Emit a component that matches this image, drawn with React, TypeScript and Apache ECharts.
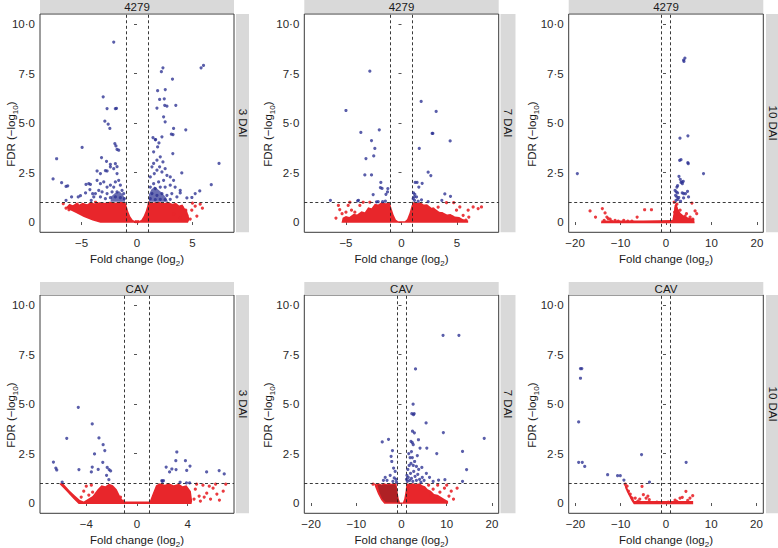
import { useEffect, useRef } from 'react';
import * as echarts from 'echarts';

// ---------- labels & ticks ----------
const topLabels = ['4279', '4279', '4279', 'CAV', 'CAV', 'CAV'];
const sideLabels = ['3 DAI', '7 DAI', '10 DAI', '3 DAI', '7 DAI', '10 DAI'];
const xTicks1 = [-5, 0, 5];
const xTicks2 = [-5, 0, 5];
const xTicks3 = [-20, -10, 0, 10, 20];
const xTicks4 = [-4, 0, 4];
const xTicks5 = [-20, -10, 0, 10, 20];
const xTicks6 = [-20, -10, 0, 10, 20];
const yTicks = [0, 2.5, 5, 7.5, 10];
const fcCut = [-1, 1];
const fdrCut = 1;

// ---------- panel 1: 4279, 3 DAI ----------
const blue1 = [
  [-2.1, 9.1], [-3.05, 6.33], [-2.7, 5.74], [-1.95, 5.73], [-1.85, 5.75], [-2.9, 5.1], [-2.6, 4.95], [-2.45, 4.73],
  [-4.95, 3.77], [-7.25, 3.2], [-7.57, 2.18], [-6.8, 1.99], [-6.4, 1.8], [-6.25, 1.83], [-4.35, 1.94], [-4.2, 1.9],
  [-5.1, 1.33], [-2.0, 3.97], [-1.9, 3.85], [-1.8, 3.67], [-1.65, 3.63], [-3.2, 3.26], [-2.75, 3.07], [-2.4, 2.92],
  [-1.95, 2.95], [-1.8, 2.8], [-2.7, 2.58], [-2.85, 2.6], [-3.6, 2.58], [-3.3, 2.45], [-4.6, 1.9], [-5.3, 1.27],
  [-4.0, 1.43], [-5.9, 1.27], [-6.4, 1.1],
  [-2.4, 2.79], [-2.1, 2.7], [-1.8, 2.45], [-3.6, 2.11], [-3.3, 1.94], [-3.0, 2.03], [-2.7, 1.77], [-2.4, 1.86],
  [-2.1, 1.77], [-1.95, 2.03], [-1.65, 2.11], [-1.5, 1.86], [-1.35, 1.6], [-1.2, 1.44], [-1.8, 1.52], [-2.25, 1.52],
  [-2.7, 1.44], [-3.15, 1.52], [-3.45, 1.6], [-3.75, 1.44], [-3.9, 1.27], [-3.3, 1.27], [-2.85, 1.18], [-2.4, 1.23],
  [-1.95, 1.27], [-1.5, 1.23], [-1.14, 1.18], [-4.25, 1.64], [-4.64, 1.47], [-4.13, 1.1],
  [2.34, 7.8], [2.2, 7.6], [3.2, 7.23], [5.78, 7.8], [6.0, 7.92], [1.86, 6.64], [2.55, 6.7], [2.04, 6.2], [2.46, 6.23],
  [2.7, 5.86], [2.5, 5.9], [1.8, 5.76], [3.5, 5.9], [2.4, 5.32], [2.54, 5.07], [3.3, 4.73], [4.4, 4.66], [3.1, 4.44],
  [3.25, 4.42], [1.44, 4.27], [1.65, 4.17], [3.23, 3.46], [7.4, 2.96], [6.7, 1.89], [5.66, 1.57], [5.25, 1.44],
  [4.95, 1.24], [4.5, 1.22], [3.9, 1.47], [4.04, 2.48],
  [1.35, 2.79], [1.5, 2.96], [1.8, 3.13], [2.1, 3.3], [2.34, 3.04], [2.04, 2.79], [1.8, 2.62], [1.56, 2.45],
  [1.2, 2.28], [2.25, 2.53], [2.54, 2.7], [2.7, 2.36], [3.0, 2.28], [3.3, 2.11], [2.4, 2.11], [1.95, 2.03],
  [1.5, 1.94], [1.2, 1.77], [1.65, 1.69], [2.1, 1.77], [2.54, 1.77], [3.0, 1.86], [3.44, 1.77], [3.9, 1.6],
  [1.35, 1.44], [1.8, 1.35], [2.25, 1.44], [2.7, 1.35], [3.14, 1.44], [3.6, 1.27], [1.2, 1.18], [1.65, 1.13],
  [2.1, 1.15], [2.54, 1.13], [3.0, 1.15], [1.5, 3.55], [1.86, 3.8], [1.98, 4.0], [1.68, 4.17], [2.25, 4.31],
];
const red1 = [
  [-6.65, 0.93], [-6.14, 0.62], [-5.84, 0.76], [-5.4, 0.9], [-4.5, 0.76], [-3.74, 1.0], [-6.4, 0.7], [-5.1, 0.55],
  [4.04, 0.76], [4.5, 0.34], [4.94, 0.6], [5.7, 0.9], [5.25, 0.8], [3.3, 0.42], [4.4, 0.6], [5.9, 0.7], [3.9, 0.2],
  [4.8, 0.15], [5.4, 0.3], [5.0, 0.95], [-0.1, 0.02], [0.1, 0.02],
];
const core1 = [
  [-6.3, 0.8], [-6.1, 0.92], [-5.8, 0.85], [-5.5, 0.95], [-5.2, 0.88], [-4.9, 0.97], [-4.5, 0.9], [-4.2, 1.0],
  [-3.8, 0.94], [-3.4, 1.0], [-3.0, 0.96], [-2.5, 1.02], [-2.0, 0.97], [-1.5, 1.02], [-1.05, 1.0],
  [-0.92, 0.78], [-0.78, 0.52], [-0.6, 0.28], [-0.4, 0.12], [-0.2, 0.05], [0, 0.04], [0.2, 0.05],
  [0.4, 0.12], [0.6, 0.3], [0.78, 0.55], [0.92, 0.8], [1.0, 1.05], [1.4, 0.98], [1.9, 1.02], [2.4, 0.96],
  [2.8, 1.0], [3.2, 0.92], [3.5, 0.97], [3.8, 0.84], [4.1, 0.88], [4.3, 0.7], [4.5, 0.6], [4.6, 0.4], [4.75, 0.15],
  [4.6, -0.04], [-3.3, -0.04], [-4.0, 0.08], [-4.8, 0.25], [-5.5, 0.45], [-6.1, 0.62], [-6.4, 0.72],
];
const blueCore1a = [[-2.4, 1.02], [-2.3, 1.3], [-2.0, 1.45], [-1.6, 1.55], [-1.3, 1.4], [-1.1, 1.2], [-1.08, 1.02]];
const blueCore1b = [[1.08, 1.02], [1.08, 1.4], [1.3, 1.65], [1.6, 1.8], [1.9, 1.65], [2.2, 1.5], [2.6, 1.25], [2.8, 1.02]];

// ---------- panel 2: 4279, 7 DAI ----------
const blue2 = [
  [-2.85, 7.63], [-5.0, 5.64], [-3.66, 4.53], [-2.0, 4.66], [-2.7, 4.12], [-2.4, 3.72], [-2.5, 3.34], [-3.2, 3.21],
  [-3.3, 2.38], [-2.7, 2.38], [-1.86, 2.0], [-1.9, 1.74], [-1.75, 1.7], [-2.55, 1.39], [-1.4, 1.4], [-1.23, 1.69],
  [-1.26, 1.52], [-3.87, 1.1], [-3.95, 1.07], [-6.4, 1.1], [-2.25, 1.02], [-2.1, 1.03], [-1.7, 1.03], [-1.45, 1.06],
  [1.77, 6.1], [3.12, 5.59], [2.76, 4.48], [2.82, 4.48], [4.38, 4.1], [1.6, 3.72], [2.4, 2.52], [2.64, 2.35],
  [1.23, 2.0], [1.4, 2.0], [1.86, 1.96], [1.56, 1.77], [1.08, 1.47], [1.2, 1.4], [1.14, 1.27], [1.35, 1.27],
  [3.9, 1.42], [4.41, 1.3], [3.63, 1.1], [1.05, 1.18], [1.17, 1.1], [2.4, 1.03], [1.5, 1.05], [1.8, 1.12],
];
const red2 = [
  [-5.68, 0.84], [-5.56, 0.63], [-5.35, 0.42], [-4.8, 0.84], [-4.65, 1.0], [-4.2, 0.5], [-3.75, 0.84], [-3.45, 1.0],
  [-2.85, 1.0], [4.05, 0.98], [4.7, 0.98], [4.95, 0.6], [5.25, 0.76], [5.55, 0.34], [6.0, 0.6], [6.06, 0.25],
  [6.45, 0.76], [6.9, 0.68], [7.2, 0.76], [4.6, 0.25], [3.6, 0.42], [2.85, 0.67], [4.95, 0.17], [5.8, 0.1],
  [3.3, 0.75], [-5.9, 0.2], [-4.5, 0.6], [-5.0, 0.5],
];
const core2 = [
  [-5.3, 0.22], [-5.0, 0.3], [-4.7, 0.26], [-4.3, 0.42], [-4.0, 0.38], [-3.6, 0.55], [-3.3, 0.5], [-3.0, 0.75],
  [-2.7, 0.7], [-2.4, 0.92], [-2.1, 0.88], [-1.8, 1.0], [-1.4, 0.95], [-1.05, 1.0],
  [-0.9, 0.7], [-0.72, 0.38], [-0.5, 0.12], [-0.3, 0.04], [0.3, 0.04], [0.5, 0.14], [0.72, 0.45], [0.92, 0.85],
  [1.05, 1.0], [1.4, 0.96], [1.7, 1.0], [2.0, 0.88], [2.3, 0.9], [2.7, 0.72], [3.0, 0.68], [3.4, 0.52], [3.7, 0.5],
  [4.1, 0.38], [4.4, 0.4], [4.8, 0.28], [5.2, 0.25], [5.5, 0.15], [6.0, 0.08], [6.0, -0.04], [-5.4, -0.04],
];

// ---------- panel 3: 4279, 10 DAI ----------
const blue3 = [
  [3.87, 8.19], [4.16, 8.29], [3.95, 8.12], [3.07, 4.24], [4.82, 4.36], [-19.5, 2.45], [8.25, 2.45], [3.0, 3.12],
  [3.3, 3.15], [4.8, 3.0], [4.9, 2.95], [2.85, 2.31], [3.14, 2.16], [3.5, 2.03], [3.8, 2.06], [3.6, 1.94],
  [2.55, 1.84], [2.26, 1.52], [2.55, 1.47], [2.1, 1.35], [2.4, 1.27], [2.8, 1.24], [3.58, 1.47], [3.9, 1.44],
  [4.74, 1.55], [4.96, 1.27], [3.87, 1.22], [4.3, 1.44], [2.0, 1.6], [2.4, 1.77], [3.3, 2.0], [2.2, 1.1],
  [2.6, 1.15], [3.2, 1.05],
];
const red3 = [
  [-16.7, 0.56], [-15.5, 0.25], [-14.0, 0.68], [-13.4, 0.46], [-13.0, 0.25], [-12.7, 0.17], [-13.6, 0.08],
  [-12.3, 0.15], [-11.2, 0.08], [-6.35, 0.25], [-4.7, 0.62], [-3.2, 0.62], [-9.3, 0.08], [-8.4, 0.05], [1.8, 1.0],
  [2.4, 0.9], [3.1, 0.6], [4.5, 0.42], [5.7, 0.96], [6.4, 0.56], [6.75, 0.42], [5.3, 0.25], [2.2, 0.7], [1.9, 0.5],
  [2.7, 0.4], [3.6, 0.2], [4.2, 0.3], [5.9, 0.15], [2.0, 0.3], [-12, 0.04], [-10.5, 0.04], [-7.5, 0.04],
];
const core3 = [
  [-14.2, 0.08], [-10, 0.08], [-5, 0.08], [1.4, 0.1], [1.7, 0.5], [1.9, 0.85], [2.3, 0.95], [2.6, 0.7], [3.2, 0.45],
  [4.0, 0.3], [5.0, 0.22], [6.2, 0.15], [6.3, -0.06], [-14.3, -0.06],
];

// ---------- panel 4: CAV, 3 DAI ----------
const blue4 = [
  [-4.63, 4.84], [-3.53, 4.0], [-5.54, 3.27], [-3.0, 3.29], [-2.67, 2.95], [-2.54, 2.65], [-3.35, 2.48],
  [-6.59, 2.07], [-2.7, 2.06], [-6.4, 1.77], [-6.33, 1.67], [-4.58, 1.69], [-3.53, 1.82], [-3.6, 1.57],
  [-3.06, 1.7], [-2.35, 1.8], [-2.2, 1.69], [-2.08, 1.62], [-2.4, 1.4], [-2.22, 1.18], [-5.9, 1.06],
  [3.14, 2.58], [2.3, 1.82], [2.75, 1.72], [2.57, 1.57], [3.06, 2.14], [3.82, 2.14], [3.08, 1.69], [3.92, 1.65],
  [4.18, 1.87], [5.49, 1.57], [6.48, 1.64], [6.88, 1.47], [1.96, 1.13], [2.09, 1.13], [3.4, 1.05], [3.9, 1.02],
  [4.15, 1.02], [2.0, 1.1],
];
const red4 = [
  [-4.2, 0.6], [-3.8, 0.4], [-4.0, 0.85], [-3.6, 0.9], [-3.5, 0.55], [-4.4, 0.3], [4.6, 0.7], [4.9, 0.35],
  [5.2, 0.9], [5.5, 0.5], [5.8, 0.2], [6.0, 0.75], [6.3, 0.45], [6.5, 0.15], [6.8, 0.6], [7.0, 0.95], [5.0, 0.1],
  [4.7, 0.95], [6.2, 0.95], [5.3, 0.3], [5.7, 0.85], [4.5, 0.2], [-1.3, 0.3], [-1.1, 0.1],
];
const core4 = [
  [-6.0, 1.02], [-5.8, 0.98], [-5.3, 0.62], [-4.9, 0.38], [-4.5, 0.15], [-4.2, 0.08], [-3.5, 0.35], [-3.1, 0.7],
  [-2.8, 0.9], [-2.5, 0.85], [-2.2, 0.98], [-1.9, 0.9], [-1.6, 0.7], [-1.3, 0.3], [-1.05, 0.08], [1.0, 0.08],
  [1.25, 0.5], [1.5, 0.9], [1.8, 1.0], [2.2, 0.92], [2.5, 1.0], [2.9, 0.9], [3.3, 0.97], [3.6, 0.85], [3.9, 0.9],
  [4.25, 0.6], [4.35, 0.1], [4.3, -0.05], [-4.6, -0.05], [-5.0, 0.2], [-5.6, 0.62], [-6.1, 0.95],
];

// ---------- panel 5: CAV, 7 DAI ----------
const blue5 = [
  [9.19, 8.48], [12.7, 8.48], [3.1, 6.78], [2.57, 5.0], [2.28, 4.52], [2.65, 4.47], [2.8, 4.52], [5.44, 4.05],
  [9.26, 3.56], [18.3, 3.27], [-4.26, 3.09], [-2.87, 3.22], [2.43, 3.63], [2.85, 3.55], [3.75, 3.2], [2.1, 3.12],
  [2.4, 3.05], [2.6, 2.95], [4.1, 2.78], [5.6, 2.78], [7.8, 2.5], [13.5, 2.61], [14.4, 1.69], [-2.0, 2.65],
  [-2.3, 2.36], [-2.15, 2.1], [-3.6, 1.3], [-3.2, 1.15], [-1.75, 1.77], [-1.4, 1.6], [-1.6, 1.27], [8.2, 1.16],
  [9.6, 1.18], [13.5, 1.1], [-4.0, 1.15], [1.3, 1.1], [1.5, 1.3], [1.8, 1.15], [2.0, 1.5], [2.2, 1.25], [2.5, 1.1],
  [2.7, 1.6], [3.0, 1.35], [3.3, 1.15], [3.6, 1.45], [4.0, 1.2], [4.3, 1.05], [4.6, 1.3], [5.0, 1.15], [1.4, 1.7],
  [1.7, 1.9], [2.1, 2.0], [2.4, 2.3], [2.9, 2.1], [3.3, 1.85], [3.8, 1.7], [2.2, 2.6], [1.9, 2.3], [3.5, 2.4],
  [4.5, 1.8], [1.2, 1.4], [1.6, 2.5], [5.5, 1.5], [6.2, 1.3], [7.0, 1.1], [2.6, 1.9], [1.1, 1.2], [-1.2, 1.2],
  [-1.1, 1.05], [-2.5, 1.4], [-1.9, 1.1],
];
const red5 = [
  [7.0, 0.7], [8.5, 0.55], [9.5, 0.75], [10.5, 0.35], [11, 0.6], [12.3, 0.75], [11.5, 0.2], [10, 0.9], [6, 0.9],
  [9, 0.1], [7.5, 0.2], [8, 0.9], [6.5, 0.4], [-6.3, 0.95],
];
const core5 = [
  [-6.1, 1.0], [-5.6, 0.95], [-5.0, 1.0], [-4.4, 0.94], [-3.8, 1.0], [-3.2, 0.95], [-2.6, 1.0], [-2.0, 0.96],
  [-1.5, 1.0], [-1.1, 1.0], [-0.9, 0.6], [-0.6, 0.2], [-0.3, 0.03], [0.3, 0.03], [0.6, 0.2], [0.9, 0.6],
  [1.1, 1.0], [1.8, 0.96], [2.5, 1.0], [3.2, 0.95], [4.0, 1.0], [4.6, 0.9], [5.2, 0.85], [5.8, 0.7], [6.5, 0.62],
  [7.2, 0.45], [8.0, 0.42], [8.8, 0.3], [9.5, 0.2], [10.3, 0.1], [10.3, -0.04], [5, -0.04], [-3.8, -0.04],
  [-4.5, 0.15], [-5.2, 0.45], [-5.8, 0.8],
];
const darkCore5 = [
  [-5.3, 0.92], [-3.0, 0.92], [-1.5, 0.92], [-1.15, 0.85], [-0.95, 0.55], [-0.7, 0.18], [-0.5, 0.04],
  [-3.5, 0.04], [-4.3, 0.22], [-4.9, 0.55],
];

// ---------- panel 6: CAV, 10 DAI ----------
const blue6 = [
  [-18.9, 6.8], [-18.6, 6.8], [-18.9, 6.31], [-19.3, 4.1], [-19.3, 2.06], [-18.5, 2.06], [-17.96, 1.85],
  [-12.9, 1.43], [-10.7, 1.38], [-10.1, 1.38], [-9.3, 1.16], [-5.4, 2.45], [-3.65, 1.06], [4.45, 2.06],
];
const red6 = [
  [-8.3, 0.6], [-7.9, 0.45], [-7.5, 0.25], [-6.8, 0.25], [-5.3, 0.84], [-5.0, 0.42], [-4.4, 0.25], [-3.7, 0.17],
  [3.1, 0.25], [3.6, 0.29], [4.4, 0.59], [5.3, 0.25], [5.9, 0.37], [2.4, 0.08], [4.8, 0.13], [-8.6, 0.85],
  [-9.0, 0.95], [-6.2, 0.1], [-2, 0.05], [0.5, 0.05], [2.0, 0.15], [-4.0, 0.35], [-5.8, 0.2],
];
const core6 = [
  [-9.2, 0.95], [-8.6, 0.8], [-8.0, 0.5], [-7.3, 0.25], [-7.0, 0.1], [6.0, 0.1], [6.0, -0.06], [-7.1, -0.06],
  [-7.6, 0.1], [-8.4, 0.45], [-9.0, 0.75],
];

// ---------- assembly ----------
const panelData = [
  { blue: blue1, red: red1, cores: [core1], blueCores: [blueCore1a, blueCore1b], darkCores: [], ticks: xTicks1 },
  { blue: blue2, red: red2, cores: [core2], blueCores: [], darkCores: [], ticks: xTicks2 },
  { blue: blue3, red: red3, cores: [core3], blueCores: [], darkCores: [], ticks: xTicks3 },
  { blue: blue4, red: red4, cores: [core4], blueCores: [], darkCores: [], ticks: xTicks4 },
  { blue: blue5, red: red5, cores: [core5], blueCores: [], darkCores: [darkCore5], ticks: xTicks5 },
  { blue: blue6, red: red6, cores: [core6], blueCores: [], darkCores: [], ticks: xTicks6 },
];

const colLeft = [40, 304.3, 568.7];
const colWidth = [194, 194.4, 194.6];
const rowTop = [14, 295];
const plotH = 218.3;
const xHalf = [8.75, 8.75, 21.4, 7.65, 21.5, 21.5];
const sideStrip = [{ x: 236, w: 13 }, { x: 500.5, w: 15 }, { x: 766, w: 13 }];
const yTitleX = [11, 268, 532];

const RED = '#e8262b';
const BLUE = '#2b3192';
const FONT = '"Liberation Sans", Arial, Helvetica, sans-serif';
const TXT = '#1a1a1a';

function fmtY(v: number) {
  return v === 0 ? '0' : v.toFixed(1).replace('.', '·');
}
function fmtX(v: number) {
  return v < 0 ? '−' + Math.abs(v) : String(v);
}

function polySeries(idx: number, poly: number[][], color: string, opacity: number, z: number) {
  return {
    type: 'custom',
    coordinateSystem: 'cartesian2d',
    xAxisIndex: idx,
    yAxisIndex: idx,
    data: poly,
    encode: { x: 0, y: 1 },
    clip: true,
    silent: true,
    z,
    renderItem: (params: any, api: any) => {
      if (params.dataIndex !== 0) return null;
      return {
        type: 'polygon',
        shape: { points: poly.map((p) => api.coord(p)) },
        style: { fill: color, opacity },
      };
    },
  };
}

function buildOption() {
  const grid: any[] = [];
  const xAxis: any[] = [];
  const yAxis: any[] = [];
  const series: any[] = [];
  const graphic: any[] = [];

  const richTitle = {
    t: { fontSize: 11.5, fontFamily: FONT, lineHeight: 16, fill: TXT, color: TXT },
    s: { fontSize: 8, fontFamily: FONT, lineHeight: 10, verticalAlign: 'bottom', fill: TXT, color: TXT },
  };

  panelData.forEach((pd, i) => {
    const col = i % 3;
    const row = Math.floor(i / 3);
    const left = colLeft[col];
    const width = colWidth[col];
    const top = rowTop[row];
    grid.push({
      left, top, width, height: plotH,
      show: true, borderColor: '#3a3a3a', borderWidth: 1, backgroundColor: '#fff',
      containLabel: false, outerBoundsMode: 'none',
    });
    xAxis.push({
      type: 'value', gridIndex: i, min: -xHalf[i], max: xHalf[i],
      splitLine: { show: false }, axisLine: { show: false },
      axisTick: { show: true, length: 3, lineStyle: { color: '#555' }, customValues: pd.ticks },
      axisLabel: { customValues: pd.ticks, formatter: fmtX, fontSize: 11.5, color: '#2a2a2a', margin: 5, fontFamily: FONT },
    });
    yAxis.push({
      type: 'value', gridIndex: i, min: -0.52, max: 10.52,
      splitLine: { show: false }, axisLine: { show: false },
      axisTick: { show: true, length: 3, lineStyle: { color: '#555' }, customValues: yTicks },
      axisLabel: { customValues: yTicks, formatter: fmtY, fontSize: 11.5, color: '#2a2a2a', margin: 5, fontFamily: FONT },
    });

    pd.cores.forEach((c) => series.push(polySeries(i, c, RED, 1, 1)));
    pd.darkCores.forEach((c) => series.push(polySeries(i, c, '#6b1c20', 0.45, 2)));
    series.push({
      type: 'scatter', xAxisIndex: i, yAxisIndex: i, data: pd.red, symbolSize: 3.2, z: 3,
      itemStyle: { color: RED, opacity: 0.9 }, silent: true,
    });
    pd.blueCores.forEach((c) => series.push(polySeries(i, c, BLUE, 0.7, 4)));
    series.push({
      type: 'scatter', xAxisIndex: i, yAxisIndex: i, data: pd.blue, symbolSize: 3.2, z: 5,
      itemStyle: { color: BLUE, opacity: 0.78 }, silent: true,
    });
    series.push({
      type: 'scatter', xAxisIndex: i, yAxisIndex: i, data: [], z: 8, silent: true,
      markLine: {
        silent: true, symbol: ['none', 'none'], label: { show: false },
        lineStyle: { color: '#222', width: 0.9, type: [3, 2.5] },
        data: [{ xAxis: fcCut[0] }, { xAxis: fcCut[1] }, { yAxis: fdrCut }],
      },
    });

    // top strip
    const stripTop = row === 0 ? 0 : 282;
    graphic.push({
      type: 'rect', shape: { x: left, y: stripTop, width, height: 13 },
      style: { fill: '#d9d9d9' }, silent: true,
    });
    graphic.push({
      type: 'text', x: left + width / 2, y: stripTop + 7,
      style: { text: topLabels[i], fontSize: 11.5, fontFamily: FONT, fill: TXT, align: 'center', verticalAlign: 'middle' },
      silent: true,
    });
    // side strip
    const ss = sideStrip[col];
    graphic.push({
      type: 'rect', shape: { x: ss.x, y: top, width: ss.w, height: plotH },
      style: { fill: '#d9d9d9' }, silent: true,
    });
    graphic.push({
      type: 'text', x: ss.x + ss.w / 2, y: top + plotH / 2, rotation: -Math.PI / 2,
      style: { text: sideLabels[i], fontSize: 11.5, fontFamily: FONT, fill: TXT, align: 'center', verticalAlign: 'middle' },
      silent: true,
    });
    // x title
    graphic.push({
      type: 'text', x: left + width / 2, y: top + plotH + 27,
      style: {
        text: '{t|Fold change (log}{s|2}{t|)}',
        align: 'center', verticalAlign: 'middle', fill: TXT,
        rich: richTitle,
      },
      silent: true,
    });
    // y title
    graphic.push({
      type: 'text', x: yTitleX[col], y: top + plotH / 2 + 11, rotation: Math.PI / 2,
      style: {
        text: '{t|FDR (−log}{s|10}{t|)}',
        align: 'center', verticalAlign: 'middle', fill: TXT,
        rich: richTitle,
      },
      silent: true,
    });
  });

  return { animation: false, backgroundColor: '#fff', grid, xAxis, yAxis, series, graphic };
}

export default function App() {
  const ref = useRef<HTMLDivElement>(null);
  useEffect(() => {
    if (!ref.current) return;
    const chart = echarts.init(ref.current, undefined, { renderer: 'svg' });
    chart.setOption(buildOption() as any);
    return () => chart.dispose();
  }, []);
  return (
    <div
      ref={ref}
      style={{ position: 'fixed', left: 0, top: 0, width: 778, height: 548, background: '#fff' }}
    />
  );
}
